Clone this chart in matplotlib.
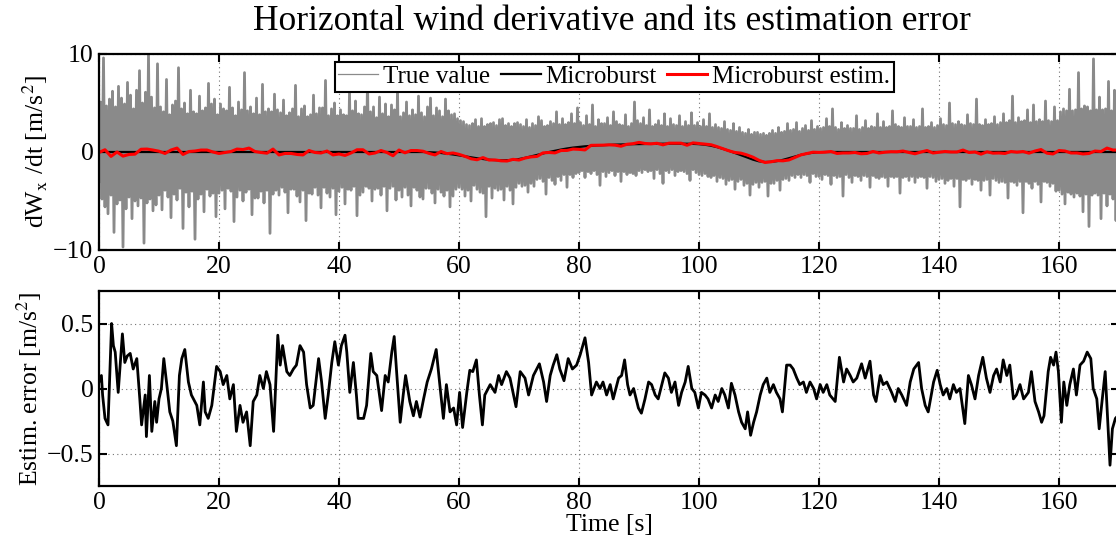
#!/usr/bin/env python3
"""Horizontal wind derivative (true / microburst / estimate) and estimation error."""
import numpy as np
import matplotlib
matplotlib.use("Agg")
import matplotlib.pyplot as plt

# ---- data ---------------------------------------------------------------
# microburst component dWx/dt and its estimate, 1 s steps, t = 0..170
microburst = [0.0] * 55 + [
    -0.02, -0.05, -0.1, -0.17, -0.25, -0.34, -0.44, -0.54, -0.64, -0.72,
    -0.79, -0.83, -0.85, -0.84, -0.8, -0.72, -0.6, -0.45, -0.3, -0.14,
    0.0, 0.13, 0.25, 0.36, 0.45, 0.52, 0.58, 0.63, 0.67, 0.7,
    0.73, 0.75, 0.77, 0.79, 0.8, 0.81, 0.82, 0.83, 0.84, 0.85,
    0.85, 0.85, 0.85, 0.84, 0.83, 0.8, 0.74, 0.64, 0.5, 0.32,
    0.12, -0.1, -0.32, -0.55, -0.78, -0.95, -1.02, -1.0, -0.93, -0.8,
    -0.63, -0.45, -0.29, -0.16, -0.07, -0.02] + [0.0] * 50

estimate = [
    -0.05, 0.23, -0.45, 0.0, -0.42, -0.25, -0.22, 0.28, 0.3, 0.2,
    0.08, -0.15, 0.2, 0.4, -0.25, 0.05, 0.1, 0.2, 0.2, 0.0,
    -0.15, -0.05, 0.05, 0.3, 0.25, 0.4, 0.05, -0.05, -0.12, 0.3,
    -0.3, -0.15, -0.15, -0.25, -0.3, 0.15, -0.05, -0.1, 0.1, -0.3,
    -0.2, -0.35, -0.1, 0.23, 0.23, -0.2, -0.1, 0.15, -0.05, -0.38,
    0.2, -0.08, 0.15, 0.15, 0.08, -0.14, -0.3, 0.05, -0.17, -0.1,
    -0.24, -0.44, -0.69, -0.79, -0.57, -0.82, -0.81, -0.9, -0.92, -0.75,
    -0.82, -0.62, -0.5, -0.45, -0.09, -0.05, -0.09, 0.15, 0.16, 0.3,
    0.27, 0.21, 0.68, 0.69, 0.7, 0.73, 0.7, 0.59, 0.79, 0.85,
    0.98, 0.87, 0.83, 0.89, 0.73, 0.9, 0.9, 0.9, 0.69, 0.93,
    0.87, 0.82, 0.74, 0.55, 0.34, 0.12, -0.05, -0.12, -0.3, -0.53,
    -0.85, -1.07, -1.0, -0.88, -0.9, -0.81, -0.55, -0.29, -0.16, -0.02,
    -0.04, -0.02, 0.05, -0.15, -0.1, -0.1, -0.05, -0.18, -0.15, 0.05,
    -0.1, -0.02, 0.03, 0.02, 0.1, -0.05, -0.18, 0.0, 0.15, -0.1,
    -0.02, 0.05, 0.0, 0.0, 0.2, -0.05, 0.0, -0.22, 0.02, -0.12,
    -0.1, -0.15, 0.05, -0.02, 0.05, -0.12, 0.1, 0.25, -0.12, -0.2,
    0.15, 0.1, -0.1, -0.1, -0.2, -0.15, 0.1, 0.05, 0.4, 0.2,
    0.2]

# noisy true value, 0.25 s steps, t = 0..170
true_value = [
    -3.0, 5.1, -4.8, 9.6, -5.6, 4.7, -6.3, 5.4, -4.4, 6.2,
    -8.2, 4.6, -5.3, 6.7, -4.9, 5.5, -9.7, 4.9, -5.8, 7.1,
    -4.6, 5.8, -6.8, 4.4, -5.0, 6.3, -5.5, 8.3, -4.7, 5.0,
    -9.3, 6.1, -5.2, 9.9, -4.8, 5.6, -6.0, 4.5, -5.4, 9.0,
    -4.4, 4.6, -5.9, 4.1, -3.9, 7.4, -4.6, 3.8, -6.7, 4.8,
    -4.3, 5.2, -4.9, 8.6, -3.7, 4.4, -7.8, 5.0, -4.1, 3.9,
    -5.6, 6.3, -4.0, 4.1, -8.9, 3.9, -4.8, 5.7, -4.3, 4.2,
    -6.1, 4.5, -3.8, 7.0, -4.5, 4.9, -4.2, 5.4, -6.6, 3.8,
    -4.2, 4.9, -3.9, 4.4, -5.8, 4.2, -3.7, 6.6, -4.0, 4.5,
    -7.1, 3.7, -4.6, 5.1, -3.9, 4.3, -5.0, 8.1, -4.1, 4.2,
    -3.8, 4.6, -6.4, 3.9, -4.7, 5.5, -4.7, 3.8, -4.0, 6.9,
    -5.2, 4.1, -3.9, 4.4, -8.3, 4.1, -4.3, 5.9, -3.9, 4.3,
    -4.4, 4.0, -3.6, 5.3, -4.1, 3.7, -6.2, 4.0, -3.8, 4.4,
    -3.8, 6.8, -4.5, 3.6, -5.1, 4.4, -3.9, 4.7, -7.0, 3.6,
    -4.2, 3.8, -4.3, 5.8, -3.6, 3.9, -4.4, 4.5, -5.7, 4.5,
    -3.6, 7.3, -4.2, 3.7, -4.6, 4.4, -3.7, 5.0, -6.4, 3.7,
    -4.0, 4.3, -3.6, 3.8, -5.3, 3.7, -3.8, 6.1, -3.9, 4.2,
    -3.5, 5.2, -6.5, 3.9, -4.4, 3.8, -4.1, 4.6, -3.5, 7.2,
    -3.7, 4.1, -5.0, 4.6, -3.8, 3.5, -3.7, 5.6, -4.4, 3.9,
    -3.5, 4.9, -6.0, 3.6, -3.7, 4.8, -3.5, 4.3, -4.9, 6.4,
    -3.9, 3.6, -4.6, 4.0, -3.6, 5.1, -4.4, 3.7, -5.5, 4.3,
    -3.6, 3.8, -3.9, 5.7, -4.6, 4.0, -4.8, 3.6, -3.7, 4.6,
    -3.7, 5.5, -4.2, 3.7, -5.2, 4.5, -3.8, 4.2, -4.1, 3.6,
    -4.5, 5.4, -3.9, 4.2, -5.6, 3.8, -4.5, 3.9, -3.8, 3.4,
    -3.6, 3.2, -3.8, 3.1, -4.5, 2.8, -3.9, 2.7, -5.0, 2.9,
    -3.4, 3.3, -3.8, 2.6, -4.1, 3.4, -4.2, 2.6, -6.6, 2.8,
    -3.5, 2.9, -4.7, 3.0, -3.7, 2.7, -3.9, 3.3, -3.8, 3.4,
    -4.9, 2.7, -3.5, 2.9, -3.9, 2.6, -5.3, 2.9, -3.6, 3.0,
    -3.2, 2.8, -3.5, 2.6, -3.4, 3.3, -4.1, 2.5, -3.2, 2.9,
    -3.5, 2.7, -2.8, 3.6, -2.7, 3.2, -3.0, 2.6, -4.3, 2.7,
    -2.6, 3.1, -2.9, 2.9, -3.3, 4.1, -2.5, 2.8, -2.9, 3.4,
    -2.3, 2.8, -3.6, 3.0, -2.3, 3.9, -2.6, 2.9, -2.2, 4.5,
    -2.1, 3.0, -1.9, 2.7, -2.6, 3.7, -2.0, 2.8, -2.2, 4.8,
    -1.9, 2.6, -2.3, 3.3, -3.4, 2.9, -2.0, 2.9, -2.5, 3.5,
    -2.1, 2.7, -1.9, 4.1, -2.4, 3.1, -2.0, 2.8, -3.0, 2.7,
    -2.0, 3.8, -2.3, 2.6, -2.1, 2.9, -2.2, 5.1, -2.4, 3.2,
    -1.9, 2.9, -2.1, 3.5, -1.8, 2.7, -2.0, 4.3, -1.9, 2.6,
    -2.7, 2.8, -1.8, 3.2, -2.2, 2.7, -3.2, 3.9, -1.9, 2.6,
    -2.1, 3.4, -1.8, 2.8, -2.4, 2.7, -2.0, 3.7, -1.9, 2.6,
    -2.0, 3.1, -2.2, 2.7, -2.9, 4.0, -1.8, 2.7, -2.1, 3.0,
    -2.3, 2.6, -2.4, 3.3, -2.2, 2.6, -2.5, 3.9, -2.6, 2.5,
    -2.4, 2.8, -3.0, 2.5, -2.6, 2.4, -2.7, 3.1, -3.3, 2.3,
    -2.9, 2.2, -2.8, 2.9, -3.8, 2.1, -3.0, 2.5, -2.8, 2.0,
    -3.4, 1.9, -3.2, 2.3, -4.4, 1.8, -3.3, 2.0, -3.1, 2.0,
    -3.6, 1.8, -3.1, 1.9, -3.0, 1.7, -4.5, 1.9, -3.2, 2.2,
    -3.2, 1.9, -2.9, 2.5, -3.9, 2.0, -2.8, 2.1, -2.7, 2.9,
    -2.9, 2.2, -2.4, 2.3, -2.6, 3.0, -2.3, 2.1, -2.6, 2.4,
    -2.3, 2.7, -2.4, 2.2, -3.1, 3.2, -2.2, 2.3, -2.5, 2.6,
    -2.5, 2.4, -2.8, 2.5, -2.3, 3.4, -2.4, 2.6, -3.3, 4.4,
    -2.4, 2.5, -2.6, 2.3, -2.5, 3.0, -4.5, 2.4, -2.3, 2.7,
    -2.6, 2.4, -3.1, 2.4, -2.4, 3.7, -2.5, 2.3, -2.9, 2.5,
    -2.4, 3.2, -2.5, 2.4, -3.6, 2.6, -2.4, 2.5, -2.6, 3.9,
    -2.7, 2.5, -2.5, 3.1, -2.6, 2.5, -3.5, 2.6, -2.5, 4.2,
    -2.6, 2.8, -2.5, 2.6, -4.2, 2.5, -2.6, 3.5, -2.5, 2.6,
    -2.9, 2.6, -2.5, 3.3, -3.1, 2.5, -2.6, 2.6, -2.5, 4.4,
    -2.6, 2.5, -3.7, 2.6, -2.5, 3.0, -2.6, 2.5, -3.0, 2.7,
    -2.8, 3.4, -2.7, 2.8, -3.2, 2.7, -2.9, 5.0, -2.7, 2.9,
    -3.5, 2.8, -2.7, 3.1, -5.6, 2.8, -2.8, 2.7, -2.9, 3.8,
    -2.7, 2.9, -3.3, 2.8, -2.8, 5.4, -2.9, 2.8, -3.9, 2.7,
    -2.9, 3.3, -2.8, 2.8, -4.4, 2.9, -2.7, 3.6, -2.9, 2.8,
    -3.1, 3.0, -3.0, 3.9, -3.1, 3.0, -4.7, 3.2, -3.0, 5.7,
    -3.1, 3.0, -3.4, 3.5, -3.0, 3.1, -6.2, 3.2, -3.0, 4.3,
    -3.2, 3.0, -3.7, 4.8, -3.0, 3.1, -3.3, 3.3, -5.1, 3.1,
    -3.0, 5.2, -3.1, 3.2, -3.5, 3.1, -3.2, 4.6, -4.0, 3.2,
    -3.9, 4.1, -4.3, 4.4, -5.3, 4.2, -4.1, 6.4, -4.3, 4.2,
    -4.6, 4.3, -4.2, 8.1, -4.5, 4.4, -6.1, 4.7, -4.3, 4.6,
    -7.6, 4.2, -4.4, 9.5, -4.2, 4.3, -4.4, 5.6, -6.8, 4.3,
    -4.2, 4.4, -5.5, 7.2, -4.3, 4.2, -4.8, 6.3, -7.0, 4.4,
    -4.0]

# estimation error (time [s], value [m/s^2])
err_t = [
    0.0, 0.4, 0.6, 1.0, 1.5, 2.1, 2.4, 2.7, 3.2, 3.9, 4.3, 4.7, 5.2, 5.7,
    6.3, 6.8, 7.1, 7.7, 7.9, 8.4, 8.8, 9.3, 9.6, 10.0, 10.4, 10.8, 11.3,
    11.8, 12.3, 12.9, 13.4, 13.8, 14.3, 14.9, 15.4, 16.3, 16.8, 17.4, 17.7,
    18.2, 18.8, 19.6, 20.2, 20.7, 21.3, 21.8, 22.4, 22.9, 23.5, 24.0, 24.6,
    25.2, 25.7, 26.3, 26.8, 27.4, 27.9, 28.5, 29.1, 29.3, 29.8, 30.2, 30.6,
    31.3, 31.8, 32.4, 32.9, 33.5, 34.1, 34.6, 35.2, 35.7, 36.6, 37.1, 37.7,
    38.2, 38.8, 39.3, 39.9, 40.4, 41.0, 41.3, 41.8, 42.4, 42.9, 43.2, 44.1,
    44.6, 45.3, 45.7, 46.3, 47.1, 47.7, 48.2, 48.8, 49.2, 49.6, 50.2, 50.7,
    51.1, 51.8, 52.4, 52.9, 53.5, 54.1, 54.7, 55.4, 56.2, 56.8, 57.4, 57.9,
    58.5, 59.1, 59.6, 60.1, 60.6, 61.3, 61.8, 62.3, 62.9, 63.4, 63.9, 64.3,
    65.2, 66.0, 66.6, 67.1, 67.9, 68.5, 69.5, 70.2, 71.0, 71.6, 72.4, 73.4,
    74.1, 74.6, 75.2, 75.7, 76.3, 76.8, 77.5, 78.2, 78.9, 79.6, 80.2, 81.0,
    81.6, 82.1, 82.9, 83.5, 84.0, 84.6, 85.2, 85.7, 86.6, 87.1, 87.6, 88.1,
    88.5, 89.1, 89.9, 90.4, 91.0, 91.6, 92.1, 92.7, 93.2, 93.8, 94.3, 94.9,
    95.4, 96.0, 96.6, 97.1, 97.7, 98.2, 98.8, 99.3, 99.9, 100.4, 101.0,
    101.5, 102.1, 102.7, 103.2, 103.8, 104.3, 104.9, 105.4, 106.0, 106.6,
    107.1, 107.7, 108.1, 108.6, 109.1, 109.6, 110.2, 110.7, 111.3, 111.8,
    112.4, 112.9, 113.5, 113.9, 114.6, 115.2, 115.7, 116.3, 116.8, 117.4,
    117.9, 118.5, 119.1, 119.6, 120.2, 120.7, 121.3, 121.8, 122.7, 123.4,
    124.1, 124.6, 125.2, 125.7, 126.3, 127.1, 127.7, 128.5, 129.1, 129.5,
    130.2, 130.7, 131.3, 132.1, 132.7, 133.2, 133.8, 134.6, 135.2, 135.8,
    136.6, 137.1, 137.7, 138.2, 139.1, 139.7, 140.2, 140.7, 141.3, 141.8,
    142.4, 142.9, 143.5, 144.3, 144.9, 145.4, 146.0, 146.6, 147.3, 147.9,
    148.5, 149.1, 149.6, 150.2, 150.7, 151.3, 151.8, 152.4, 152.9, 153.5,
    154.1, 154.9, 155.4, 156.0, 156.6, 157.1, 157.5, 158.2, 158.6, 159.1,
    159.5, 159.9, 160.4, 160.8, 161.3, 161.8, 162.4, 162.9, 163.5, 164.1,
    164.7, 165.3, 165.7, 166.3, 166.7, 167.1, 167.7, 168.1, 168.5, 168.9,
    169.4, 170.0]
err_v = [
    0.05, 0.1, -0.05, -0.23, -0.28, 0.5, 0.33, 0.28, -0.03, 0.42, 0.2, 0.25,
    0.27, 0.15, 0.23, -0.08, -0.28, -0.05, -0.37, 0.1, -0.33, -0.1, -0.26,
    -0.08, 0.0, 0.23, 0.03, -0.18, -0.25, -0.44, 0.1, 0.23, 0.3, 0.05, -0.05,
    -0.13, -0.28, 0.05, -0.18, -0.23, -0.13, 0.17, 0.13, 0.03, 0.1, -0.08,
    0.03, -0.33, -0.13, -0.26, -0.18, -0.44, -0.1, -0.05, 0.1, 0.0, 0.13,
    0.03, -0.33, -0.13, 0.41, 0.18, 0.33, 0.13, 0.1, 0.15, 0.18, 0.33, 0.28,
    0.03, -0.15, -0.13, 0.23, 0.05, -0.23, -0.05, 0.2, 0.36, 0.18, 0.33,
    0.41, 0.28, -0.03, 0.2, -0.05, -0.23, -0.23, -0.13, 0.27, 0.13, 0.1,
    -0.17, 0.1, 0.05, 0.28, 0.4, 0.13, -0.26, -0.05, 0.1, -0.1, -0.21, -0.1,
    -0.22, -0.08, 0.05, 0.15, 0.3, 0.03, -0.23, 0.03, -0.18, -0.15, -0.28,
    -0.03, -0.3, -0.03, 0.14, 0.13, 0.22, -0.05, -0.28, -0.05, 0.03, -0.03,
    0.1, 0.03, 0.13, 0.08, -0.14, 0.13, 0.08, -0.05, 0.1, 0.19, 0.05, -0.1,
    0.1, 0.18, 0.26, 0.15, 0.06, 0.23, 0.15, 0.18, 0.26, 0.39, 0.2, -0.05,
    0.05, 0.0, 0.05, -0.05, 0.03, -0.08, 0.08, 0.1, 0.22, 0.03, -0.05, 0.0,
    -0.15, -0.19, -0.08, 0.05, 0.03, -0.05, -0.08, 0.03, 0.12, 0.08, -0.03,
    0.05, -0.13, -0.03, 0.05, 0.17, 0.0, -0.03, -0.15, -0.03, -0.05, -0.08,
    -0.15, -0.05, -0.1, 0.0, -0.05, -0.15, 0.04, -0.05, -0.18, -0.26, -0.31,
    -0.18, -0.36, -0.26, -0.18, -0.05, 0.03, 0.08, -0.03, 0.03, -0.03, -0.08,
    -0.18, 0.18, 0.18, 0.15, 0.08, 0.03, 0.05, -0.03, 0.05, 0.0, -0.08, 0.03,
    -0.03, 0.03, -0.05, -0.1, 0.24, 0.05, 0.15, 0.1, 0.05, 0.08, 0.19, 0.08,
    0.21, -0.05, -0.1, 0.1, 0.03, 0.05, -0.03, -0.1, 0.0, -0.05, -0.13, 0.05,
    0.15, 0.2, 0.0, -0.13, -0.18, 0.05, 0.14, 0.03, -0.05, 0.0, -0.08, 0.03,
    -0.03, 0.0, -0.27, 0.1, 0.03, -0.08, 0.1, 0.24, 0.08, -0.03, 0.1, 0.15,
    0.05, 0.22, 0.1, 0.18, -0.08, -0.05, 0.03, -0.08, -0.03, 0.13, -0.1,
    -0.18, -0.26, -0.21, 0.13, 0.24, 0.18, 0.28, 0.13, -0.26, 0.05, -0.13,
    0.03, 0.15, -0.05, 0.18, 0.21, 0.28, 0.23, 0.0, -0.08, -0.31, -0.13,
    0.13, -0.23, -0.59, -0.31, -0.23, -0.2]

x_ticks = [0, 20, 40, 60, 80, 100, 120, 140, 160]


def style_axes(ax):
    ax.set_xlim(0, 170)
    ax.set_xticks(x_ticks)
    ax.grid(True, color="0.45", linestyle=(0, (1, 3)), linewidth=0.8)
    ax.tick_params(direction="in", length=6, width=1.5, top=True, right=True,
                   labelsize=18.5, pad=4)
    for sp in ax.spines.values():
        sp.set_linewidth(1.6)


def main():
    plt.rcParams["font.family"] = ["Liberation Serif", "DejaVu Serif"]
    plt.rcParams["mathtext.fontset"] = "stix"

    fig = plt.figure(figsize=(11.16, 5.43), dpi=100)
    ax1 = fig.add_axes([99 / 1116, 293 / 543, 1020 / 1116, 196 / 543])
    ax2 = fig.add_axes([99 / 1116, 57 / 543, 1020 / 1116, 195 / 543])

    t_fine = np.linspace(0, 170, len(true_value))
    t_sec = np.arange(len(microburst))

    ax1.plot(t_fine, true_value, color="#8a8a8a", lw=2.0, label="True value")
    ax1.plot(t_sec, microburst, color="black", lw=1.6, label="Microburst")
    ax1.plot(t_sec, estimate, color="red", lw=2.2, label="Microburst estim.")
    style_axes(ax1)
    ax1.set_ylim(-10, 10)
    ax1.set_yticks([-10, 0, 10])
    ax1.set_ylabel(r"dW$_\mathrm{x}$ /dt [m/s$^2$]", fontsize=18.5, labelpad=2)
    fig.text(611.5 / 1116, 1 - 22 / 543,
             "Horizontal wind derivative and its estimation error",
             fontsize=25.5, ha="center", va="center")
    leg = ax1.legend(loc="upper center", bbox_to_anchor=(0.505, 1.0), ncol=3,
                     fontsize=18, frameon=True, fancybox=False,
                     handlelength=1.6, handletextpad=0.2, columnspacing=0.4,
                     borderpad=0.15, borderaxespad=0.3)
    leg.get_frame().set_edgecolor("black")
    leg.get_frame().set_linewidth(1.5)
    leg.get_frame().set_alpha(1.0)
    leg.legend_handles[0].set_linewidth(0.9)

    ax2.plot(err_t, err_v, color="black", lw=2.0)
    style_axes(ax2)
    ax2.set_ylim(-0.75, 0.75)
    ax2.set_yticks([-0.5, 0, 0.5])
    ax2.set_yticklabels(["\u22120.5", "0", "0.5"])
    ax2.set_ylabel(r"Estim. error [m/s$^2$]", fontsize=18.5, labelpad=2)
    ax2.set_xlabel("Time [s]", fontsize=18.5, labelpad=0.5)

    fig.savefig("out.png", dpi=100)


if __name__ == "__main__":
    main()
